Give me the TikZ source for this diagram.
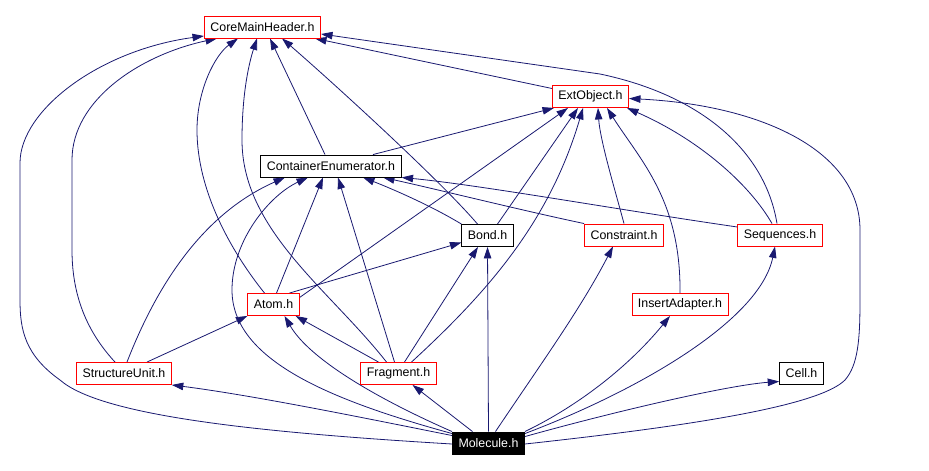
\documentclass[tikz,border=0pt]{standalone}
\usepackage{fontspec}
\setmainfont{Liberation Sans}
\usetikzlibrary{arrows.meta,backgrounds}
\definecolor{edgeblue}{RGB}{25,25,112}
\definecolor{hdrred}{RGB}{255,0,0}

\begin{document}
\begin{tikzpicture}[x=1pt,y=-1pt,
    hfile/.style={draw=hdrred,line width=0.9pt,minimum height=22pt,inner xsep=6pt,inner ysep=0pt,
        fill=white,font=\fontsize{12.4}{14}\selectfont},
    bfile/.style={hfile,draw=black},
    incl/.style={draw=edgeblue,line width=0.8pt,-{Triangle[length=11.5pt,width=7.5pt]}}]
    \useasboundingbox (0,0) rectangle (929,471);

    \node[hfile] (core) at (262.5,27) {CoreMainHeader.h};
    \node[hfile] (ext) at (590.5,96.5) {ExtObject.h};
    \node[bfile] (cont) at (331,166) {ContainerEnumerator.h};
    \node[bfile] (bond) at (487.5,235.5) {Bond.h};
    \node[hfile] (constr) at (624,235) {Constraint.h};
    \node[hfile] (seq) at (780,235) {Sequences.h};
    \node[hfile] (atm) at (273.5,304.5) {Atom.h};
    \node[hfile] (insert) at (680,304.5) {InsertAdapter.h};
    \node[hfile] (struct) at (124,373.5) {StructureUnit.h};
    \node[hfile] (frag) at (398.5,373.5) {Fragment.h};
    \node[bfile] (cell) at (801.5,373.5) {Cell.h};
    \node[bfile,fill=black,text=white] (mol) at (488.5,443) {Molecule.h};

    \begin{scope}[on background layer]
    % Molecule.h
    \draw[incl] ([yshift=-1pt]mol.west) .. controls (250,432) and (100,415) .. (60,380)
        .. controls (25,355) and (20,330) .. (20,300) -- (20,163)
        .. controls (20,110) and (100,50) .. ([yshift=-9pt]core.west);
    \draw[incl] ([yshift=-4pt]mol.north west) .. controls (350,415) and (250,395) .. (struct.south east);
    \draw[incl] ([yshift=-2pt]mol.north west) .. controls (330,400) and (232,360) .. (232,290)
        .. controls (232,240) and (270,195) .. ([xshift=-23pt]cont.south);
    \draw[incl] (mol.north west) .. controls (380,400) and (310,360) .. ([xshift=11pt]atm.south);
    \draw[incl] ([xshift=-16pt]mol.north) -- ([xshift=14pt]frag.south);
    \draw[incl] (mol.north) -- (bond.south);
    \draw[incl] ([xshift=7pt]mol.north) .. controls (540,365) and (580,310) .. ([xshift=-11pt]constr.south);
    \draw[incl] (mol.north east) .. controls (580,405) and (630,365) .. ([xshift=-10pt]insert.south);
    \draw[incl] ([yshift=-2pt]mol.north east) .. controls (640,390) and (760,320) .. ([xshift=-5pt]seq.south);
    \draw[incl] ([yshift=-5pt]mol.north east) .. controls (620,410) and (730,385) .. ([yshift=-8pt]cell.west);
    \draw[incl] ([yshift=-1pt]mol.east) .. controls (700,425) and (820,405) .. (845,380)
        .. controls (858,365) and (860,340) .. (860,300) -- (860,230)
        .. controls (860,150) and (760,105) .. ([yshift=-2pt]ext.east);

    % StructureUnit.h
    \draw[incl] ([xshift=-9pt]struct.north) .. controls (90,335) and (72,300) .. (72,250) -- (72,160)
        .. controls (72,100) and (140,55) .. ([xshift=13pt]core.south west);
    \draw[incl] ([xshift=3pt]struct.north) .. controls (155,290) and (200,215) .. ([xshift=-46pt]cont.south);
    \draw[incl] ([xshift=23pt]struct.north) -- (atm.south west);

    % Atom.h
    \draw[incl] ([xshift=-9pt]atm.north) .. controls (230,250) and (197,190) .. (197,130)
        .. controls (197,90) and (215,55) .. ([xshift=-24.5pt]core.south);
    \draw[incl] ([xshift=3pt]atm.north) -- ([xshift=-8pt]cont.south);
    \draw[incl] ([xshift=16pt]atm.north) -- ([yshift=-7pt]bond.west);
    \draw[incl] ([yshift=7pt]atm.east) -- ([xshift=-22.5pt]ext.south);

    % Fragment.h
    \draw[incl] ([xshift=-20pt]frag.north) -- ([xshift=-4pt]atm.south east);
    \draw[incl] ([xshift=-12pt]frag.north) .. controls (330,290) and (242,230) .. (242,140)
        .. controls (242,90) and (250,60) .. ([xshift=-5.5pt]core.south);
    \draw[incl] ([xshift=-4pt]frag.north) -- ([xshift=7pt]cont.south);
    \draw[incl] ([xshift=6pt]frag.north) -- ([xshift=-9.5pt]bond.south);
    \draw[incl] ([xshift=13pt]frag.north) .. controls (490,290) and (550,220) .. ([xshift=-7.5pt]ext.south);

    % Bond.h
    \draw[incl] ([xshift=-10pt]bond.north) .. controls (440,180) and (330,80) .. ([xshift=19.5pt]core.south);
    \draw[incl] (bond.north west) .. controls (430,205) and (390,188) .. ([xshift=32pt]cont.south);
    \draw[incl] ([xshift=10pt]bond.north) -- ([xshift=-12.5pt]ext.south);

    % ContainerEnumerator.h
    \draw[incl] ([xshift=-6pt]cont.north) -- ([xshift=7.5pt]core.south);
    \draw[incl] ([xshift=42pt]cont.north) -- ([xshift=2pt]ext.south west);

    % Constraint.h
    \draw[incl] (constr.north west) .. controls (520,210) and (440,190) .. ([xshift=52pt]cont.south);
    \draw[incl] (constr.north) .. controls (615,190) and (600,140) .. ([xshift=7.5pt]ext.south);

    % Sequences.h
    \draw[incl] ([yshift=8pt]seq.west) .. controls (620,210) and (480,185) .. (cont.south east);
    \draw[incl] ([xshift=-8pt]seq.north) .. controls (750,185) and (700,140) .. ([xshift=-2pt]ext.south east);
    \draw[incl] ([xshift=-3pt]seq.north) .. controls (765,150) and (700,95) .. (600,74)
        -- ([yshift=-7pt]core.east);

    % InsertAdapter.h
    \draw[incl] (insert.north) .. controls (681,200) and (640,160) .. ([xshift=16.5pt]ext.south);

    % ExtObject.h
    \draw[incl] ([yshift=8pt]ext.west) -- ([xshift=-6pt]core.south east);
    \end{scope}
\end{tikzpicture}
\end{document}
